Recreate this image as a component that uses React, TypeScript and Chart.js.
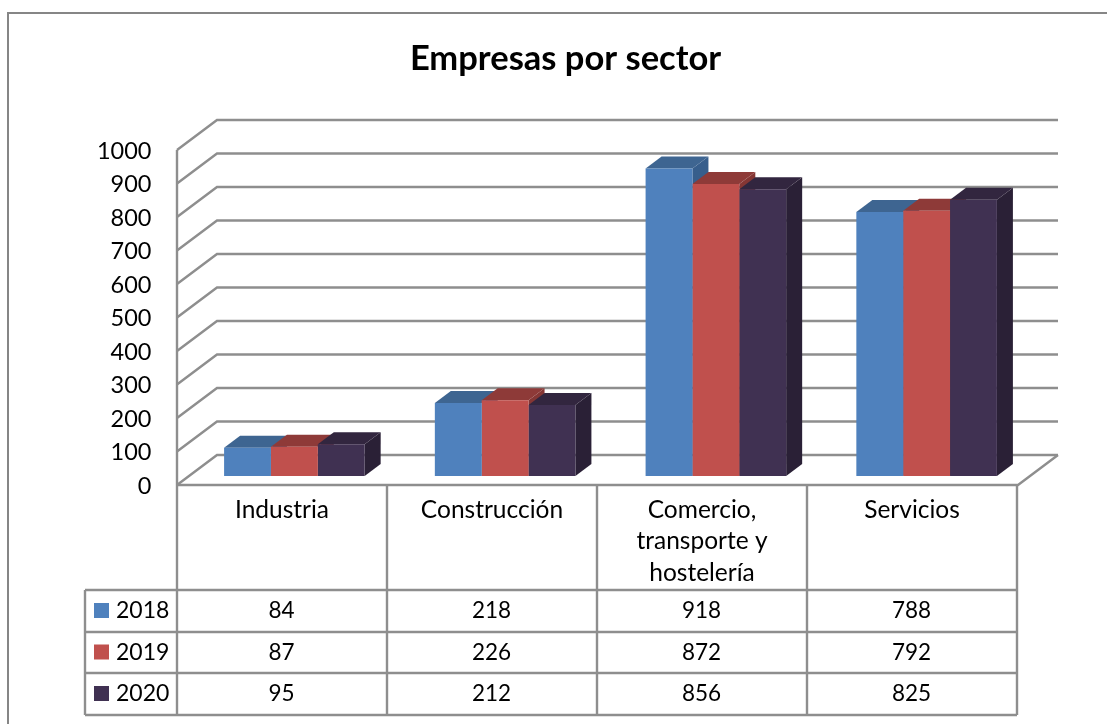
import React, { useEffect, useRef } from "react";
import { Chart, registerables } from "chart.js";

Chart.register(...registerables);

const categories = ["Industria", "Construcción", "Comercio, transporte y hostelería", "Servicios"];
const categoryLines = [["Industria"], ["Construcción"], ["Comercio,", "transporte y", "hostelería"], ["Servicios"]];
const seriesNames = ["2018", "2019", "2020"];
const values2018 = [84, 218, 918, 788];
const values2019 = [87, 226, 872, 792];
const values2020 = [95, 212, 856, 825];
const allValues = [values2018, values2019, values2020];
const frontColors = ["#4F81BD", "#C0504D", "#403152"];
const topColors = ["#3E6591", "#8E3A38", "#32263F"];
const sideColors = ["#375E8C", "#853634", "#2A2036"];
const tickValues = [0, 100, 200, 300, 400, 500, 600, 700, 800, 900, 1000];

const GRID = "#8E8E8E";
const FONT = "Lato, 'Open Sans', sans-serif";

const line = (ctx: CanvasRenderingContext2D, pts: number[][]) => {
  ctx.beginPath();
  pts.forEach(([x, y], i) => (i ? ctx.lineTo(x, y) : ctx.moveTo(x, y)));
  ctx.stroke();
};
const poly = (ctx: CanvasRenderingContext2D, pts: number[][], color: string) => {
  ctx.fillStyle = color;
  ctx.beginPath();
  pts.forEach(([x, y], i) => (i ? ctx.lineTo(x, y) : ctx.moveTo(x, y)));
  ctx.closePath();
  ctx.fill();
};

const box3d = {
  id: "box3d",
  beforeDatasetsDraw(chart: any) {
    const ctx: CanvasRenderingContext2D = chart.ctx;
    const y = chart.scales.y;
    ctx.save();
    // page frame: left and top edges only
    ctx.strokeStyle = "#868686";
    ctx.lineWidth = 2;
    line(ctx, [[8, 724], [8, 13], [1107, 13]]);
    // walls: grid lines
    ctx.strokeStyle = GRID;
    ctx.lineWidth = 2.4;
    const frontL = 177, backL = 217, backR = 1058, frontR = 1018;
    line(ctx, [[frontL, y.getPixelForValue(1000) + 9], [frontL, y.getPixelForValue(0) + 9]]);
    tickValues.forEach((v) => {
      const py = y.getPixelForValue(v);
      line(ctx, [[frontL, py + 9], [backL, py - 21], [backR, py - 21]]);
    });
    const y0 = y.getPixelForValue(0);
    line(ctx, [[backR, y0 - 21], [frontR, y0 + 9], [frontL, y0 + 9]]);
    // bar depth: tops and sides
    chart.data.datasets.forEach((_: any, d: number) => {
      chart.getDatasetMeta(d).data.forEach((bar: any) => {
        const { x, y: top, base, width } = bar.getProps(["x", "y", "base", "width"], true);
        const l = x - width / 2, r = x + width / 2, dx = 16, dy = 12;
        poly(ctx, [[r, top], [r + dx, top - dy], [r + dx, base - dy], [r, base]], sideColors[d]);
        poly(ctx, [[l, top], [l + dx, top - dy], [r + dx, top - dy], [r, top]], topColors[d]);
      });
    });
    ctx.restore();
  },
  afterDatasetsDraw(chart: any) {
    const ctx: CanvasRenderingContext2D = chart.ctx;
    const y = chart.scales.y;
    ctx.save();
    ctx.fillStyle = "#000";
    ctx.textBaseline = "middle";
    // title
    ctx.font = `bold 34.5px ${FONT}`;
    ctx.textAlign = "center";
    ctx.fillText("Empresas por sector", 565.5, 59);
    // y axis labels
    ctx.font = `23.5px ${FONT}`;
    ctx.textAlign = "right";
    tickValues.forEach((v) => ctx.fillText(String(v), 151.5, y.getPixelForValue(v) + 10));
    // data table
    const cols = [177, 387, 597, 807, 1017];
    const rows = [590, 632, 673, 715];
    const top = 485, legendL = 85;
    ctx.strokeStyle = GRID;
    ctx.lineWidth = 2.4;
    cols.forEach((c) => line(ctx, [[c, top], [c, rows[3]]]));
    line(ctx, [[legendL, rows[0]], [legendL, rows[3]]]);
    rows.forEach((r) => line(ctx, [[legendL, r], [cols[4], r]]));
    ctx.font = `24.5px ${FONT}`;
    ctx.textAlign = "center";
    categoryLines.forEach((ls, c) => {
      ls.forEach((t, i) => ctx.fillText(t, (cols[c] + cols[c + 1]) / 2, 510 + i * 31.5));
    });
    allValues.forEach((vals, s) => {
      const cy = (rows[s] + rows[s + 1]) / 2;
      ctx.font = `22.5px ${FONT}`;
      vals.forEach((v, c) => ctx.fillText(String(v), (cols[c] + cols[c + 1]) / 2 - 0.5, cy));
      ctx.fillStyle = frontColors[s];
      ctx.fillRect(94, cy - 8, 15, 15);
      ctx.fillStyle = "#000";
      ctx.textAlign = "left";
      ctx.font = `23px ${FONT}`;
      ctx.fillText(seriesNames[s], 116, cy);
      ctx.textAlign = "center";
    });
    ctx.restore();
  },
};

export default function App() {
  const ref = useRef<HTMLCanvasElement>(null);
  useEffect(() => {
    const chart = new Chart(ref.current!, {
      type: "bar",
      data: {
        labels: categories,
        datasets: seriesNames.map((name, i) => ({
          label: name,
          data: allValues[i],
          backgroundColor: frontColors[i],
          borderWidth: 0,
          categoryPercentage: 0.667,
          barPercentage: 1,
        })),
      },
      options: {
        responsive: false,
        animation: false,
        layout: { padding: { left: 189, right: 75, top: 141, bottom: 248 } },
        plugins: { legend: { display: false }, title: { display: false }, tooltip: { enabled: false } },
        scales: {
          x: { display: false },
          y: { display: false, min: 0, max: 1000 },
        },
      },
      plugins: [box3d],
    } as any);
    return () => chart.destroy();
  }, []);
  return (
    <div style={{ position: "absolute", left: 0, top: 0, width: 1107, height: 724, background: "#fff" }}>
      <canvas ref={ref} width={1107} height={724} style={{ display: "block" }} />
    </div>
  );
}
